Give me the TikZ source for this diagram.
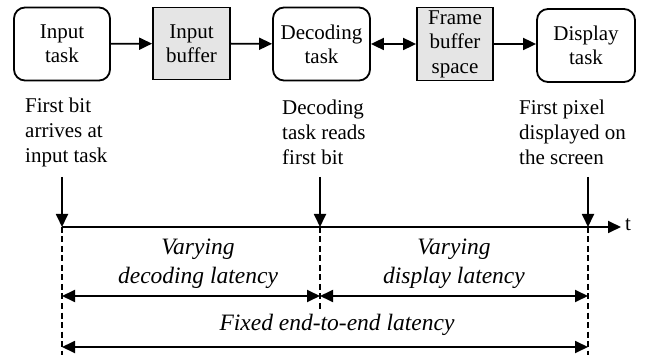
\documentclass[tikz,border=0pt]{standalone}
\usepackage{fontspec}
\setmainfont{Liberation Serif}
\usetikzlibrary{arrows.meta}
\tikzset{
  task/.style={draw, line width=1.8pt, rounded corners=11pt, align=center, inner sep=0pt,
    font=\fontsize{21}{24}\selectfont},
  buf/.style={draw, line width=1.8pt, fill=gray!20, align=center, inner sep=0pt,
    font=\fontsize{21}{24.5}\selectfont},
  lbl/.style={align=left, inner sep=0pt, font=\fontsize{21}{25}\selectfont},
  ital/.style={align=center, inner sep=0pt, font=\fontsize{23.5}{29}\selectfont\itshape},
  arr/.style={line width=1.8pt, -{Triangle[length=13pt,width=12pt]}},
  darr/.style={line width=1.8pt, {Triangle[length=13pt,width=12pt]}-{Triangle[length=13pt,width=12pt]}},
  dash line/.style={line width=1.2pt, dash pattern=on 6pt off 3.5pt},
}
\begin{document}
\begin{tikzpicture}[x=1pt,y=-1pt]
\useasboundingbox (0,0) rectangle (645,355);
% boxes
\node[task, minimum width=96pt, minimum height=73pt] (in) at (62,44) {Input\\task};
\node[buf, minimum width=77pt, minimum height=72pt] (ib) at (191.5,43.5) {Input\\buffer};
\node[task, minimum width=97pt, minimum height=73pt] (dec) at (321.5,44) {Decoding\\task};
\node[buf, minimum width=76pt, minimum height=73pt] (fb) at (455,44) {Frame\\buffer\\space};
\node[task, minimum width=98pt, minimum height=73pt] (disp) at (586,45.5) {Display\\task};
\draw[arr] (in) -- (ib);
\draw[arr] (ib) -- (dec);
\draw[darr] (dec) -- (fb);
\draw[arr] (fb.east) -- (fb.east -| disp.west);
% labels
\node[lbl, anchor=west] (l1) at (25,132) {First bit\\arrives at\\input task};
\node[lbl, anchor=west] (l2) at (282,132) {Decoding\\task reads\\first bit};
\node[lbl, anchor=west] (l3) at (519,132) {First pixel\\displayed on\\the screen};
% time line
\coordinate (t0) at (62,227);
\coordinate (t1) at (320,227);
\coordinate (t2) at (588,227);
\coordinate (tend) at (621,227);
\coordinate (a0) at (62,177);
\coordinate (a1) at (320,177);
\coordinate (a2) at (588,177);
\draw[arr] (t0) -- (tend);
\node[font=\fontsize{21}{24}\selectfont, anchor=west, inner sep=0pt] (tl) at (625,225) {t};
\draw[arr] (a0) -- (t0);
\draw[arr] (a1) -- (t1);
\draw[arr] (a2) -- (t2);
% dashed
\coordinate (b0) at (62,355);
\coordinate (b1) at (320,312);
\coordinate (b2) at (588,355);
\draw[dash line] (t0) -- (b0);
\draw[dash line] (t1) -- (b1);
\draw[dash line] (t2) -- (b2);
% latency arrows
\coordinate (d0) at (62,296);
\coordinate (d1) at (320,296);
\coordinate (d2) at (588,296);
\coordinate (e0) at (62,347);
\coordinate (e2) at (588,347);
\draw[darr] (d0) -- (d1);
\draw[darr] (d1) -- (d2);
\draw[darr] (e0) -- (e2);
\node[ital] (v1) at (198,264) {Varying\\decoding latency};
\node[ital] (v2) at (454,264) {Varying\\display latency};
\node[ital] (fx) at (337,325) {Fixed end-to-end latency};
\end{tikzpicture}
\end{document}
